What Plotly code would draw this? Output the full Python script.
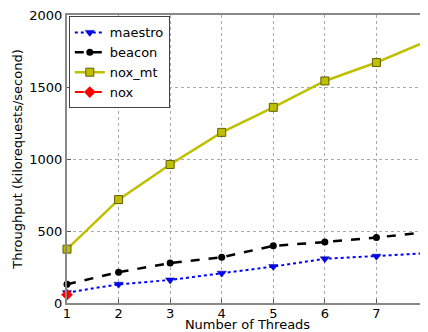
import plotly.graph_objects as go

threads = [1, 2, 3, 4, 5, 6, 7, 8]
maestro = [72, 130, 160, 207, 253, 307, 325, 346]
beacon = [130, 214, 277, 318, 397, 423, 455, 493]
nox_mt = [374, 718, 962, 1185, 1359, 1542, 1670, 1821]
nox_x = [1]
nox = [58]

fig = go.Figure()
fig.add_trace(go.Scatter(x=threads, y=maestro, name="maestro", mode="lines+markers",
                         line=dict(color="#0000ff", width=2, dash="dot"),
                         marker=dict(symbol="triangle-down", size=8, color="#0000ff",
                                     line=dict(color="#00007f", width=0.5)),
                         cliponaxis=False))
fig.add_trace(go.Scatter(x=threads, y=beacon, name="beacon", mode="lines+markers",
                         line=dict(color="black", width=2.5, dash="dash"),
                         marker=dict(symbol="circle", size=7, color="black"),
                         cliponaxis=False))
fig.add_trace(go.Scatter(x=threads, y=nox_mt, name="nox_mt", mode="lines+markers",
                         line=dict(color="#bfbf00", width=2.5),
                         marker=dict(symbol="square", size=8, color="#bfbf00",
                                     line=dict(color="#5f5f00", width=1)),
                         cliponaxis=False))
fig.add_trace(go.Scatter(x=nox_x, y=nox, name="nox", mode="lines+markers",
                         line=dict(color="red", width=2, dash="dashdot"),
                         marker=dict(symbol="diamond", size=9, color="red"),
                         cliponaxis=False))

font = dict(family="DejaVu Sans", size=13, color="black")
# page body has an 8px margin, so the figure is 8px smaller and margins shifted
fig.update_layout(
    width=420, height=324,
    margin=dict(l=59, r=0, t=7, b=29, autoexpand=False),
    paper_bgcolor="white", plot_bgcolor="white",
    font=font,
    showlegend=True,
    legend=dict(x=0.005, y=0.995, xanchor="left", yanchor="top",
                bordercolor="#444", borderwidth=1, bgcolor="white",
                font=dict(family="DejaVu Sans", size=13),
                tracegroupgap=0, itemwidth=30),
)
fig.update_xaxes(range=[1, 8], tickmode="array", tickvals=threads,
                 ticktext=[str(t) for t in threads], automargin=False,
                 ticklabeloverflow="allow", ticklabelstandoff=-3,
                 showgrid=True, gridcolor="#aaaaaa", griddash="dot", gridwidth=1,
                 showline=True, linecolor="#888888", linewidth=2, mirror=True,
                 ticks="inside", ticklen=4, tickcolor="#555",
                 title=dict(text="Number of Threads", standoff=0, font=font),
                 zeroline=False)
fig.update_yaxes(range=[0, 2000], tickvals=[0, 500, 1000, 1500, 2000], automargin=False,
                 ticklabeloverflow="allow",
                 showgrid=True, gridcolor="#aaaaaa", griddash="dot", gridwidth=1,
                 showline=True, linecolor="#888888", linewidth=2, mirror=True,
                 ticks="inside", ticklen=4, tickcolor="#555",
                 title=dict(text="Throughput (kilorequests/second)", standoff=4, font=font),
                 zeroline=False)

fig.write_html("out.html")
